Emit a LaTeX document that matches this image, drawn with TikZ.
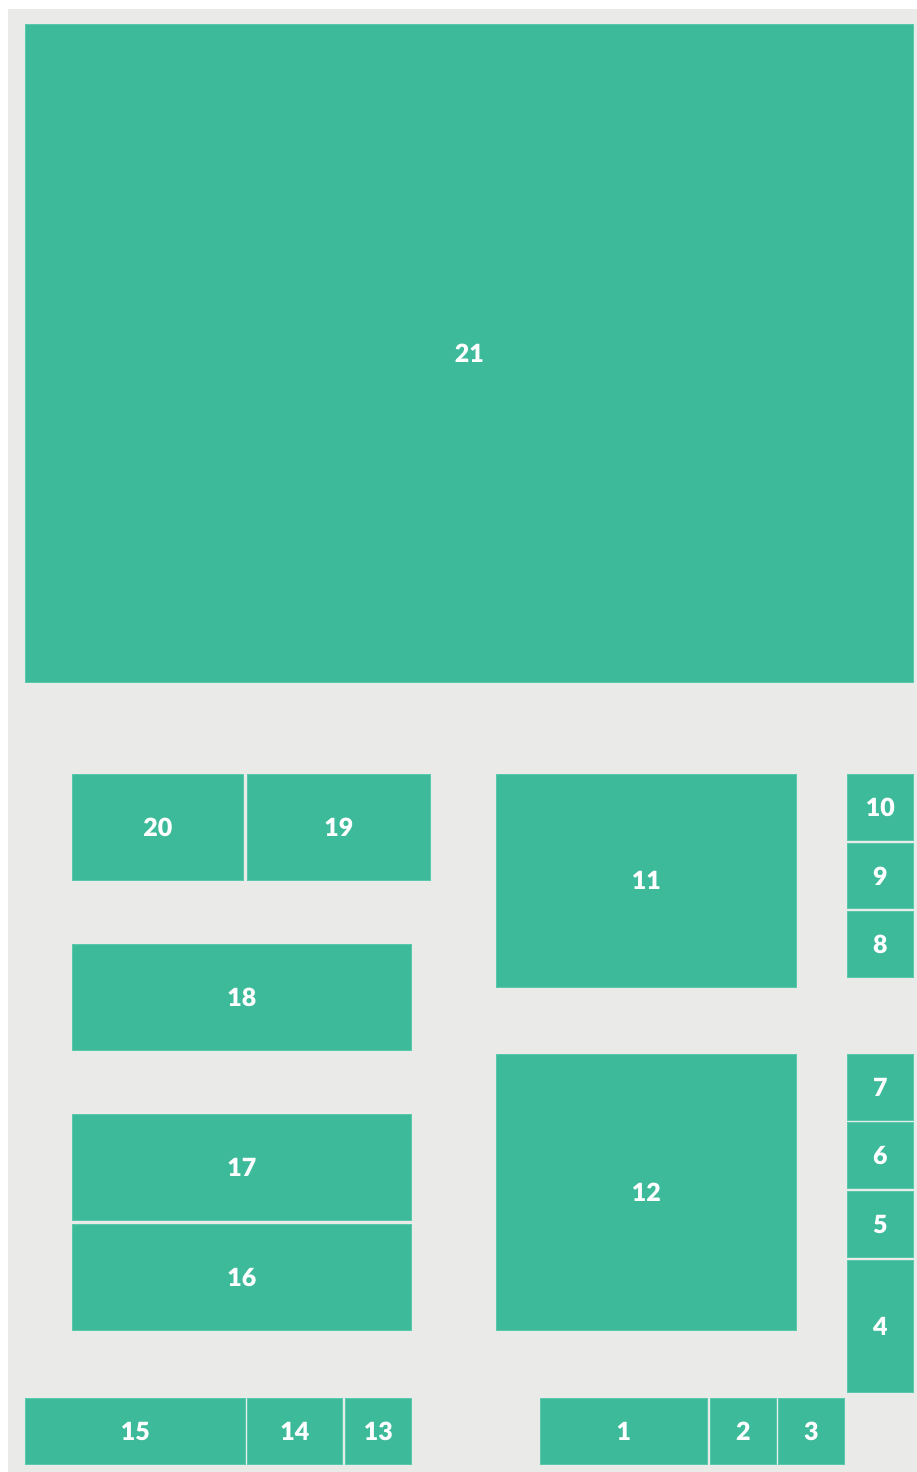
\documentclass[tikz,border=0pt]{standalone}
\usepackage{fontspec}
\setmainfont{Lato}[BoldFont={Lato Black}]
\usepackage{xcolor}
\usetikzlibrary{positioning}
\definecolor{tilegreen}{RGB}{61,186,154}
\definecolor{tileedge}{RGB}{90,200,170}
\definecolor{bggrey}{RGB}{234,234,232}
\tikzset{
  tile/.style={rectangle, fill=tilegreen, draw=tileedge, line width=0.6pt,
    inner sep=0pt, anchor=north west, text=white,
    font=\fontsize{25}{25}\selectfont\bfseries},
  sq/.style={tile, minimum width=66pt, minimum height=66pt},
}

\begin{document}
\begin{tikzpicture}[x=1pt, y=-1pt]
\useasboundingbox (0,0) rectangle (917,1472);
\fill[bggrey] (8,9) rectangle (917,1472);
% top
\node[tile, minimum width=888pt, minimum height=658pt] (t21) at (25,24) {21};
% left block
\node[tile, minimum width=171pt, minimum height=106pt] (t20) at (72,774) {20};
\node[tile, minimum width=183pt, minimum height=106pt] (t19) at (247,774) {19};
\node[tile, minimum width=339pt, minimum height=106pt] (t18) at (72,944) {18};
\node[tile, minimum width=339pt, minimum height=106pt] (t17) at (72,1114) {17};
\node[tile, minimum width=339pt, minimum height=106pt] (t16) at (72,1224) {16};
% middle block
\node[tile, minimum width=300pt, minimum height=213pt] (t11) at (496,774) {11};
\node[tile, minimum width=300pt, minimum height=276pt] (t12) at (496,1054) {12};
% right column
\node[sq] (t10) at (847,774) {10};
\node[sq, minimum height=65pt] (t9) at (847,843) {9};
\node[sq] (t8) at (847,911) {8};
\node[sq] (t7) at (847,1054) {7};
\node[sq] (t6) at (847,1122) {6};
\node[sq] (t5) at (847,1191) {5};
\node[sq, minimum height=132pt] (t4) at (847,1260) {4};
% bottom row
\node[tile, minimum width=220pt, minimum height=66pt] (t15) at (25,1398) {15};
\node[tile, minimum width=95pt, minimum height=66pt] (t14) at (247,1398) {14};
\node[sq] (t13) at (345,1398) {13};
\node[tile, minimum width=167pt, minimum height=66pt] (t1) at (540,1398) {1};
\node[sq] (t2) at (710,1398) {2};
\node[sq] (t3) at (778,1398) {3};
\end{tikzpicture}
\end{document}
